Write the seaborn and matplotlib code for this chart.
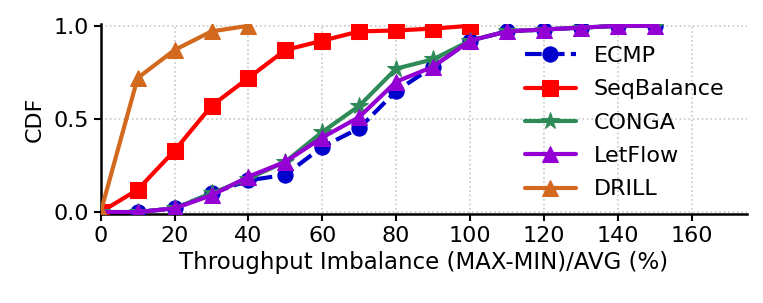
import numpy as np
import pandas as pd
import matplotlib
matplotlib.use("Agg")
import matplotlib.pyplot as plt
import seaborn as sns

x_full = [0, 10, 20, 30, 40, 50, 60, 70, 80, 90, 100, 110, 120, 130, 140, 150]
ecmp = [0, 0, 0.02, 0.10, 0.17, 0.20, 0.35, 0.45, 0.65, 0.78, 0.92, 0.97, 0.98, 0.99, 1.0, 1.0]
conga = [0, 0, 0.02, 0.10, 0.18, 0.27, 0.43, 0.57, 0.77, 0.82, 0.92, 0.97, 0.98, 0.99, 1.0, 1.0]
letflow = [0, 0, 0.02, 0.09, 0.19, 0.27, 0.40, 0.51, 0.70, 0.78, 0.92, 0.97, 0.98, 0.99, 1.0, 1.0]
x_seq = [0, 10, 20, 30, 40, 50, 60, 70, 80, 90, 100]
seqbalance = [0, 0.12, 0.33, 0.57, 0.72, 0.87, 0.92, 0.97, 0.975, 0.985, 1.0]
x_drill = [0, 10, 20, 30, 40]
drill = [0, 0.72, 0.87, 0.97, 1.0]

series = [
    ("ECMP", x_full, ecmp, "#0000CC", "o", (4, 1.5)),
    ("SeqBalance", x_seq, seqbalance, "#FF0000", "s", ""),
    ("CONGA", x_full, conga, "#2E8B57", "*", ""),
    ("LetFlow", x_full, letflow, "#9400D3", "^", ""),
    ("DRILL", x_drill, drill, "#D2691E", "^", ""),
]

sns.set_style("ticks")
plt.rcParams['font.family'] = ['DejaVu Sans']
plt.rcParams['text.color'] = 'black'
plt.rcParams['axes.labelcolor'] = 'black'

fig = plt.figure(figsize=(7.63, 3.03), dpi=100)
ax = fig.add_axes([0.132, 0.294, 0.847, 0.627])

for name, xs, ys, color, marker, dash in series:
    df = pd.DataFrame({"x": xs, "y": ys})
    ms = 13 if marker == "*" else 11
    sns.lineplot(data=df, x="x", y="y", ax=ax, color=color, marker=marker,
                 markersize=ms, linewidth=3, markeredgecolor=color,
                 label=name, zorder=3)
    if dash:
        ax.lines[-1].set_dashes(dash)

ax.set_xlim(0, 175)
ax.set_ylim(-0.01, 1.01)
ax.set_xticks(np.arange(0, 161, 20))
ax.set_yticks([0.0, 0.5, 1.0])
ax.set_yticklabels(["0.0", "0.5", "1.0"])
ax.grid(True, linestyle=":", color="#C8C8C8", linewidth=1.2)
ax.set_axisbelow(True)
for s in ["top", "right"]:
    ax.spines[s].set_visible(False)
for s in ["left", "bottom"]:
    ax.spines[s].set_linewidth(1.8)
    ax.spines[s].set_color("black")
ax.tick_params(axis="both", labelsize=16, width=1.5, length=5, direction="out",
               colors="black", labelcolor="black")
ax.set_xlabel("Throughput Imbalance (MAX-MIN)/AVG (%)", fontsize=16.5, labelpad=4)
ax.set_ylabel("CDF", fontsize=16, labelpad=6)

ax.legend(loc="center left", bbox_to_anchor=(0.632, 0.48), frameon=False, fontsize=16,
          handlelength=2.3, labelspacing=0.6, borderpad=0.2, handletextpad=0.8)

fig.savefig("out.png", dpi=100)
